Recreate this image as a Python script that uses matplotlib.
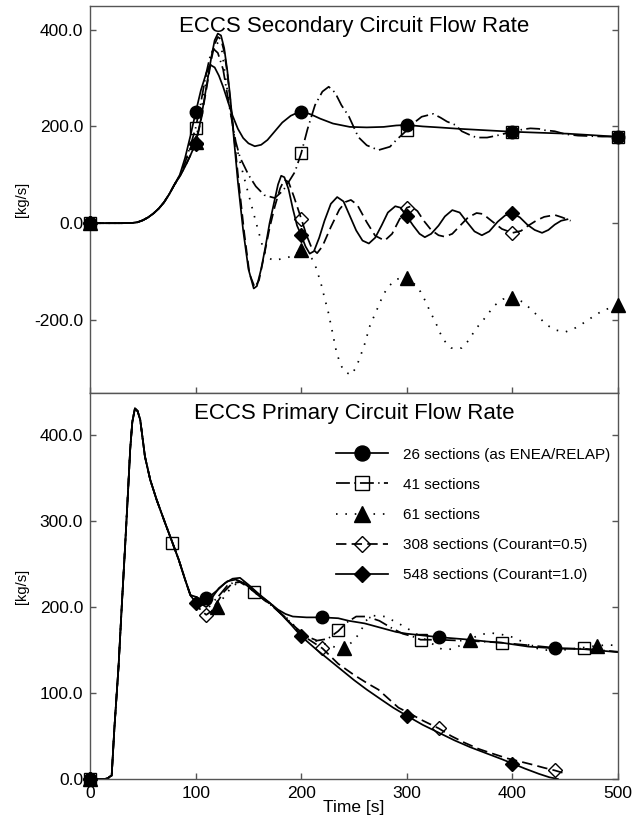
import matplotlib
matplotlib.use("Agg")
import matplotlib.pyplot as plt

plt.rcParams["font.family"] = ["Liberation Sans", "DejaVu Sans"]

LABELS = ["26 sections (as ENEA/RELAP)", "41 sections", "61 sections",
          "308 sections (Courant=0.5)", "548 sections (Courant=1.0)"]

# ---- secondary circuit (top panel) ----
SEC_RISE_T = [0, 10, 20, 30, 40, 45, 50, 55, 60, 65, 70, 75, 80]
SEC_RISE_V = [0, 0, 0, 0, 0.5, 2, 6, 12, 20, 30, 43, 60, 80]

SEC26_T = [85, 90, 95, 100, 105, 110, 114, 118, 122, 126, 130, 135, 140, 145, 150, 156, 162, 168,
           175, 182, 190, 195, 200, 205, 210, 218, 230, 246, 262, 278, 290, 300, 315, 330, 350,
           375, 400, 425, 452, 475, 500]
SEC26_V = [100, 135, 180, 229, 275, 310, 327, 322, 305, 282, 255, 222, 195, 176, 165, 159, 162, 172,
           190, 208, 222, 227, 229, 228, 224, 216, 206, 199, 198, 199, 202, 203, 200, 198, 195,
           192, 189, 187, 185, 182, 178.5]

SEC41_T = [85, 90, 95, 100, 105, 110, 114, 117, 121, 126, 132, 138, 142, 150, 157, 165, 175, 183,
           190, 194, 200, 206, 213, 220, 226, 232, 238, 245, 254, 262, 273, 284, 290, 300, 307,
           314, 325, 332, 338, 346, 352, 360, 366, 376, 385, 394, 400, 410, 417, 425, 431, 440,
           450, 462, 474, 485, 500]
SEC41_V = [98, 125, 160, 197, 250, 310, 348, 360, 352, 318, 240, 168, 136, 100, 76, 58, 52, 68,
           92, 106, 145, 195, 244, 272, 282, 270, 244, 221, 178, 161, 151, 158, 172, 192, 208,
           220, 226, 218, 210, 203, 190, 182, 177, 177, 181, 186, 189, 194, 196, 195, 192, 190,
           184, 181, 180, 179, 179]

SEC61_T = [85, 90, 95, 100, 105, 110, 115, 120, 125, 131, 137, 142, 147, 152, 157, 163, 167, 174,
           183, 192, 200, 205, 210, 214, 217, 220, 222, 225, 229, 233, 236, 240, 247, 252, 256,
           260, 265, 269, 273, 277, 282, 290, 298, 305, 313, 318, 322, 327, 331, 335, 342, 352,
           359, 365, 371, 377, 383, 391, 400, 410, 418, 425, 432, 441, 450, 460, 469, 477, 486, 500]
SEC61_V = [97, 120, 150, 168, 230, 295, 350, 375, 355, 258, 175, 127, 85, 44, 3, -45, -70, -77,
           -73, -68, -56, -62, -73, -92, -113, -135, -155, -178, -220, -263, -285, -305, -314, -298,
           -275, -250, -212, -192, -172, -151, -132, -116, -112, -120, -142, -163, -183, -204, -225,
           -242, -258, -258, -241, -219, -204, -187, -170, -157, -154, -163, -179, -194, -210, -221,
           -225, -216, -204, -192, -180, -170]

SEC308_T = [85, 90, 95, 100, 105, 110, 115, 118, 121, 124, 127, 130, 133, 137, 141, 146, 151, 156,
            160, 165, 170, 175, 180, 184, 188, 193, 200, 205, 210, 215, 220, 228, 236, 242, 247,
            253, 262, 270, 279, 286, 293, 300, 304, 310, 316, 323, 330, 336, 343, 350, 358, 366,
            372, 380, 390, 400, 408, 415, 423, 430, 440, 447, 455]
SEC308_V = [97, 117, 140, 163, 212, 275, 340, 370, 385, 380, 355, 310, 250, 165, 80, -20, -105, -133,
            -118, -65, -10, 35, 72, 90, 85, 55, 9, -25, -52, -62, -48, -8, 28, 44, 48,
            38, 2, -26, -36, -22, 8, 32, 35, 25, 5, -14, -25, -28, -22, -6, 12, 21,
            19, 5, -12, -20, -16, -5, 6, 13, 17, 12, 5]

SEC548_T = [85, 90, 95, 100, 105, 110, 115, 118, 121, 124, 127, 130, 133, 136, 140, 145, 150, 155,
            158, 162, 166, 170, 174, 178, 181, 184, 188, 192, 196, 200, 204, 208, 212, 217, 222,
            228, 234, 240, 246, 252, 258, 264, 270, 276, 282, 289, 294, 300, 306, 312, 317, 323,
            330, 336, 343, 350, 357, 364, 371, 378, 386, 393, 400, 407, 414, 421, 428, 434, 440,
            446, 452]
SEC548_V = [97, 117, 140, 165, 215, 280, 345, 378, 392, 388, 362, 315, 255, 180, 85, -15, -95, -135,
            -130, -95, -50, 0, 40, 80, 98, 95, 70, 30, -5, -25, -48, -63, -58, -30, 5,
            40, 54, 45, 15, -15, -36, -42, -30, -5, 22, 35, 32, 14, -5, -22, -29, -22,
            -5, 14, 27, 22, 2, -17, -25, -17, 3, 16, 20, 12, -3, -14, -20, -14, -3,
            5, 8]

SEC_MK_T = [0, 100, 200, 300, 400, 500]
SEC26_MV = [0, 229, 229, 203, 189, 178.5]
SEC41_MV = [0, 197, 145, 192, 189, 179]
SEC61_MV = [0, 168, -56, -113, -154, -170]
SEC308_MV = [0, 163, 9, 32, -20]
SEC548_MV = [0, 165, -25, 14, 20]

# ---- primary circuit (bottom panel) ----
PRI_RISE_T = [0, 14, 17, 19, 20.5, 23, 27, 30, 33, 36, 38, 40, 42.5, 45, 47.5, 52, 57, 63, 71, 78,
              84, 90, 95]
PRI_RISE_V = [0, 0, 1, 3, 4, 58, 131, 200, 266, 335, 383, 415, 431, 428, 418, 375, 348, 325, 298,
              275, 255, 232, 214]

PRI26_T = [100, 105, 110, 115, 120, 128, 135, 142, 150, 160, 170, 178, 185, 192, 205, 220, 235,
           245, 260, 278, 290, 300, 315, 330, 345, 360, 375, 390, 415, 440, 468, 500]
PRI26_V = [212, 209, 210, 214, 219, 228, 233, 234, 226, 215, 205, 197, 192, 189, 188, 188, 187,
           184, 181, 175, 171, 169, 167, 165, 163.5, 162, 160, 158.5, 154, 152, 151, 147.5]

PRI41_T = [100, 110, 120, 130, 140, 148, 155, 165, 175, 185, 195, 205, 215, 225, 235, 243, 252,
           262, 274, 285, 296, 305, 313, 330, 350, 370, 390, 420, 445, 468, 500]
PRI41_V = [208, 200, 210, 225, 231, 226, 218, 208, 199, 188, 176, 166, 161, 163, 172, 182, 189,
           189, 184, 176, 169, 166, 162, 162, 161, 160, 158.5, 155, 152, 151.5, 148]

PRI61_T = [100, 110, 115, 120, 127, 135, 145, 155, 165, 175, 185, 195, 205, 215, 225, 233, 240,
           249, 256, 261, 268, 279, 289, 298, 310, 323, 333, 342, 352, 362, 370, 379, 390, 400,
           409, 418, 428, 447, 462, 480, 491, 500]
PRI61_V = [206, 204, 199, 200, 212, 225, 230, 220, 209, 200, 189, 176, 166, 160, 156, 153, 152,
           160, 171, 184, 190, 189, 183, 177, 168, 158, 151, 151, 156, 164, 168, 170, 168, 165,
           160, 154, 150, 150, 152, 155, 156, 155]

PRI308_T = [100, 105, 110, 115, 120, 127, 135, 142, 150, 160, 170, 180, 190, 200, 210, 220, 235,
            250, 263, 273, 292, 300, 315, 330, 342, 355, 368, 380, 395, 405, 418, 430, 440, 451]
PRI308_V = [205, 196, 191, 195, 205, 218, 228, 229, 223, 213, 204, 193, 181, 168, 160, 152, 134,
            121, 111, 104, 83, 78, 68, 59, 50, 42, 35, 30, 24, 21, 17, 13, 10, 6]

PRI548_T = [100, 105, 110, 115, 122, 130, 138, 145, 150, 160, 170, 180, 190, 200, 213, 226, 238,
            250, 262, 275, 287, 300, 315, 330, 345, 360, 375, 390, 400, 412, 425, 435, 443]
PRI548_V = [205, 202, 204, 210, 222, 230, 232, 228, 224, 214, 205, 193, 180, 166, 152, 139, 127,
            115, 104, 93, 83, 73.5, 63, 54, 45, 37, 30, 23, 18, 12, 6, 2, 0]

PRI26_MK = ([0, 110, 220, 330, 440], [0, 210, 188, 165, 152])
PRI41_MK = ([0, 78, 155, 235, 313, 390, 468], [0, 275, 218, 173, 162, 158.5, 152])
PRI61_MK = ([0, 120, 240, 360, 480], [0, 200, 152, 162, 155])
PRI308_MK = ([0, 110, 220, 330, 440], [0, 191, 152, 59, 10])
PRI548_MK = ([0, 100, 200, 300, 400], [0, 205, 166, 73.5, 18])

STYLES = [
    dict(ls="-", marker="o", ms=9, mfc="black"),
    dict(ls=(0, (8, 2.5, 0.8, 2.5)), marker="s", ms=8.5, mfc="none"),
    dict(ls=(0, (0.9, 4.5)), marker="^", ms=9.5, mfc="black"),
    dict(ls=(0, (6, 3)), marker="D", ms=6.8, mfc="none"),
    dict(ls="-", marker="D", ms=6.8, mfc="black"),
]


def draw(ax, t, v, mt, mv, st, label=None):
    ax.plot(t, v, color="black", lw=1.25, ls=st["ls"])
    ax.plot(mt, mv, ls="none", marker=st["marker"], ms=st["ms"], mfc=st["mfc"],
            mec="black", mew=1.0, clip_on=False, zorder=4)
    # legend proxy
    ax.plot([], [], color="black", lw=1.25, ls=st["ls"], marker=st["marker"], ms=st["ms"],
            mfc=st["mfc"], mec="black", mew=1.0, label=label)


def style_axes(ax):
    for s in ax.spines.values():
        s.set_color("#555555")
        s.set_linewidth(1.0)
    ax.tick_params(direction="in", length=4.5, width=1.0, color="#555555",
                   labelsize=12.5, pad=5, right=True, top=False)
    ax.set_xlim(0, 500)
    ax.set_xticks(range(0, 501, 100))
    ax.yaxis.set_major_formatter(matplotlib.ticker.FormatStrFormatter("%.1f"))
    ax.set_ylabel("[kg/s]", fontsize=10.5)
    ax.yaxis.set_label_coords(-0.116, 0.5)


fig = plt.figure(figsize=(6.44, 8.17), dpi=100)
ax1 = fig.add_axes([0.1398, 0.519, 0.820, 0.4737])
ax2 = fig.add_axes([0.1398, 0.0465, 0.820, 0.4725])

sec = [(SEC26_T, SEC26_V, SEC26_MV), (SEC41_T, SEC41_V, SEC41_MV), (SEC61_T, SEC61_V, SEC61_MV),
       (SEC308_T, SEC308_V, SEC308_MV), (SEC548_T, SEC548_V, SEC548_MV)]
for (t, v, mv), st in zip(sec, STYLES):
    draw(ax1, SEC_RISE_T + t, SEC_RISE_V + v, SEC_MK_T[:len(mv)], mv, st)

pri = [(PRI26_T, PRI26_V, PRI26_MK), (PRI41_T, PRI41_V, PRI41_MK), (PRI61_T, PRI61_V, PRI61_MK),
       (PRI308_T, PRI308_V, PRI308_MK), (PRI548_T, PRI548_V, PRI548_MK)]
for (t, v, mk), st, lbl in zip(pri, STYLES, LABELS):
    draw(ax2, PRI_RISE_T + t, PRI_RISE_V + v, mk[0], mk[1], st, label=lbl)

style_axes(ax1)
ax1.set_ylim(-351, 449)
ax1.set_yticks([-200, 0, 200, 400])
ax1.tick_params(labelbottom=False)
ax1.text(0.5, 0.948, "ECCS Secondary Circuit Flow Rate", transform=ax1.transAxes,
         ha="center", va="center", fontsize=16)

style_axes(ax2)
ax2.set_ylim(0, 449)
ax2.set_yticks(range(0, 401, 100))
ax2.text(0.5, 0.946, "ECCS Primary Circuit Flow Rate", transform=ax2.transAxes,
         ha="center", va="center", fontsize=16)
ax2.set_xlabel("Time [s]", fontsize=12.5, labelpad=-1)

ax2.legend(loc="upper left", bbox_to_anchor=(0.466, 0.858), frameon=False, fontsize=11,
           handlelength=3.4, handletextpad=1.0, labelspacing=1.05, borderpad=0,
           borderaxespad=0, markerscale=1.2, numpoints=1)

fig.savefig("out.png", dpi=100)
